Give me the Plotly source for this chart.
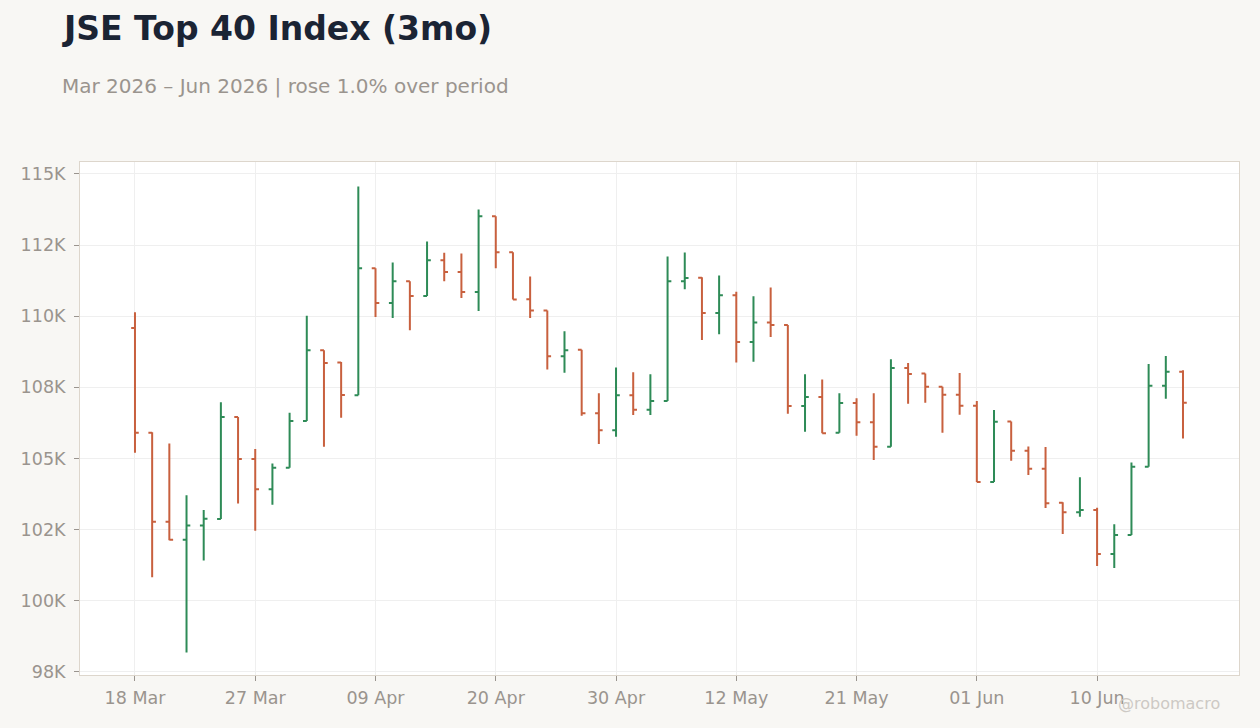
import plotly.graph_objects as go

dates = [
    "2026-03-18", "2026-03-19", "2026-03-20", "2026-03-23", "2026-03-24", "2026-03-25",
    "2026-03-26", "2026-03-27", "2026-03-30", "2026-03-31", "2026-04-01", "2026-04-02",
    "2026-04-07", "2026-04-08", "2026-04-09", "2026-04-10", "2026-04-13", "2026-04-14",
    "2026-04-15", "2026-04-16", "2026-04-17", "2026-04-20", "2026-04-21", "2026-04-22",
    "2026-04-23", "2026-04-24", "2026-04-28", "2026-04-29", "2026-04-30", "2026-05-04",
    "2026-05-05", "2026-05-06", "2026-05-07", "2026-05-08", "2026-05-11", "2026-05-12",
    "2026-05-13", "2026-05-14", "2026-05-15", "2026-05-18", "2026-05-19", "2026-05-20",
    "2026-05-21", "2026-05-22", "2026-05-25", "2026-05-26", "2026-05-27", "2026-05-28",
    "2026-05-29", "2026-06-01", "2026-06-02", "2026-06-03", "2026-06-04", "2026-06-05",
    "2026-06-08", "2026-06-09", "2026-06-10", "2026-06-11", "2026-06-12", "2026-06-15",
    "2026-06-17", "2026-06-18",
]

open_ = [
    109585, 105900, 102780, 102140, 102640, 102870, 106460, 104980, 103920, 104670,
    106320, 108800, 108370, 107220, 111690, 110460, 111230, 110710, 111970, 111550,
    110850, 113510, 112250, 110600, 110200, 108590, 108820, 106590, 105990, 107220,
    106710, 107020, 111230, 111350, 110110, 110740, 109090, 109780, 109690, 106840,
    107160, 105900, 106950, 106270, 105410, 108180, 107990, 107520, 107240, 106850,
    104170, 106300, 105270, 104640, 103440, 103110, 103190, 101640, 102310, 104710,
    107560, 108050,
]

high = [
    110135, 105920, 105530, 103710, 103190, 106980, 106460, 105330, 104825, 106610,
    110020, 108800, 108390, 114560, 111690, 111890, 111230, 112630, 112230, 112200,
    113750, 113510, 112250, 111400, 110200, 109470, 108820, 107290, 108200, 108030,
    107960, 112100, 112240, 111370, 111430, 110860, 110700, 111010, 109690, 107960,
    107780, 107290, 107120, 107290, 108490, 108360, 107990, 107520, 108000, 107020,
    106700, 106300, 105420, 105400, 103460, 104340, 103270, 102690, 104860, 108320,
    108600, 108100,
]

low = [
    105200, 100825, 102130, 98180, 101410, 102870, 103420, 102460, 103370, 104670,
    106320, 105410, 106430, 107220, 109970, 109940, 109510, 110710, 111230, 110640,
    110180, 111690, 110590, 109940, 108130, 108010, 106500, 105510, 105760, 106530,
    106530, 107020, 110950, 109160, 109370, 108370, 108400, 109270, 106570, 105940,
    105890, 105900, 105800, 104950, 105410, 106920, 106960, 105900, 106540, 104170,
    104170, 104920, 104420, 103260, 102350, 102950, 101220, 101150, 102310, 104710,
    107100, 105700,
]

close = [
    105900, 102780, 102140, 102640, 102880, 106460, 104980, 103920, 104670, 106320,
    108800, 108360, 107230, 111690, 110460, 111230, 110710, 111970, 111550, 110850,
    113510, 112250, 110590, 110205, 108590, 108800, 106590, 105990, 107220, 106710,
    107020, 111230, 111340, 110110, 110740, 109090, 109780, 109690, 106840, 107160,
    105890, 106950, 106270, 105410, 108180, 107970, 107520, 107240, 106850, 104170,
    106290, 105270, 104640, 103430, 103110, 103190, 101640, 102310, 104710, 107560,
    108050, 106960,
]

x_tick_dates = ["2026-03-18", "2026-03-27", "2026-04-09", "2026-04-20", "2026-04-30",
                "2026-05-12", "2026-05-21", "2026-06-01", "2026-06-10"]
x_tick_labels = ["18 Mar", "27 Mar", "09 Apr", "20 Apr", "30 Apr",
                 "12 May", "21 May", "01 Jun", "10 Jun"]

y_tick_vals = [97500, 100000, 102500, 105000, 107500, 110000, 112500, 115000]
y_tick_labels = ["98K", "100K", "102K", "105K", "108K", "110K", "112K", "115K"]

title_text = "JSE Top 40 Index (3mo)"
subtitle_text = "Mar 2026 – Jun 2026 | rose 1.0% over period"
watermark_text = "@robomacro"

UP = "#2e8b57"
DOWN = "#c8603e"
TICK_GREY = "#9a948e"

fig = go.Figure(
    go.Ohlc(
        x=dates, open=open_, high=high, low=low, close=close,
        increasing=dict(line=dict(color=UP, width=2)),
        decreasing=dict(line=dict(color=DOWN, width=2)),
        tickwidth=0.22,
        showlegend=False,
    )
)

fig.update_layout(
    width=1260, height=728,
    margin=dict(l=80, r=21, t=162, b=53),
    paper_bgcolor="#f8f7f4",
    plot_bgcolor="#ffffff",
    font=dict(family="DejaVu Sans", size=17.5, color=TICK_GREY),
    xaxis=dict(
        type="category",
        range=[-3.2, 64.26],
        rangeslider=dict(visible=False),
        tickmode="array", tickvals=x_tick_dates, ticktext=x_tick_labels,
        showgrid=True, gridcolor="#efefef", gridwidth=1,
        showline=True, linecolor="#ddd6cc", linewidth=1, mirror=True,
        ticks="outside", ticklen=5, tickcolor="#9a948e",
        tickfont=dict(size=17.5, color=TICK_GREY),
        ticklabelstandoff=2,
        zeroline=False,
    ),
    yaxis=dict(
        range=[97390, 115420],
        tickmode="array", tickvals=y_tick_vals, ticktext=y_tick_labels,
        showgrid=True, gridcolor="#efefef", gridwidth=1,
        showline=True, linecolor="#ddd6cc", linewidth=1, mirror=True,
        ticks="outside", ticklen=5, tickcolor="#9a948e",
        tickfont=dict(size=17.5, color=TICK_GREY),
        ticklabelstandoff=5,
        zeroline=False,
    ),
    annotations=[
        dict(text="<b>" + title_text + "</b>", xref="paper", yref="paper",
             x=-0.0175, y=1.2593, xanchor="left", yanchor="middle", showarrow=False,
             font=dict(family="DejaVu Sans", size=33, color="#1b2434")),
        dict(text=subtitle_text, xref="paper", yref="paper",
             x=-0.0175, y=1.148, xanchor="left", yanchor="middle", showarrow=False,
             font=dict(family="DejaVu Sans", size=20, color="#9a948e")),
        dict(text=watermark_text, xref="paper", yref="paper",
             x=0.9855, y=-0.0565, xanchor="right", yanchor="middle", showarrow=False,
             font=dict(family="DejaVu Sans", size=16, color="#cdc9c4")),
    ],
)

fig.write_html(
    "out.html",
    config={"displayModeBar": False},
    post_script="document.body.style.margin='0';document.body.style.background='#f8f7f4';document.body.style.overflow='hidden';",
)
